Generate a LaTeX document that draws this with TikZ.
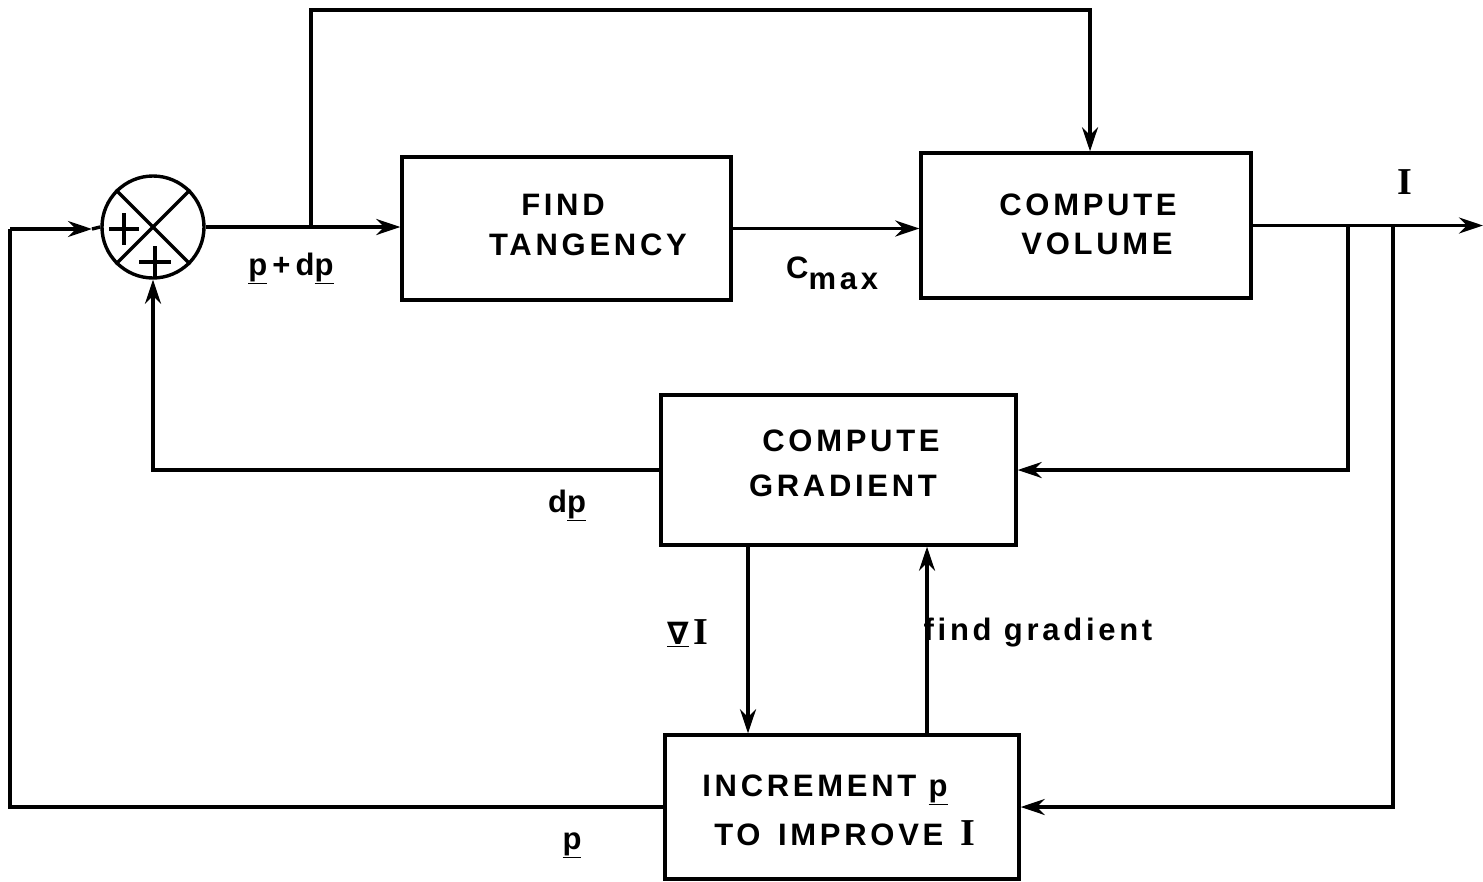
\documentclass[tikz,border=0pt]{standalone}
\usepackage{fontspec}
\setmainfont{Liberation Sans}[LetterSpace=12]
\newfontfamily\serI{Liberation Serif}
\newfontfamily\dvs{DejaVu Sans}
\usetikzlibrary{arrows.meta,calc}
\newcommand{\vI}{{\serI\bfseries\fontsize{38}{40}\selectfont I}}
\newcommand{\up}{\underline{p}}
\tikzset{
  blk/.style={draw, line width=3.4pt, rectangle, inner sep=0pt},
  lbl/.style={font=\fontsize{31}{36}\selectfont\bfseries, inner sep=0pt},
  wire/.style={line width=3.4pt},
  arr/.style={line width=3.4pt, -{Stealth[length=24pt,width=16pt]}},
}
\begin{document}
\begin{tikzpicture}[x=1pt,y=-1pt]
\useasboundingbox (0,0) rectangle (1483,881);
% summing junction
\node[circle, draw, line width=3.4pt, minimum size=102pt, inner sep=0pt] (sum) at (153,227) {};
\draw[wire] (sum.45) -- (sum.225);
\draw[wire] (sum.135) -- (sum.315);
\draw[wire] (109,229) -- (139,229) (124,213) -- (124,245);
\draw[wire] (139,262) -- (171,262) (155,246) -- (155,277);
% blocks
\node[blk, minimum width=329pt, minimum height=143pt] (tang) at (566.5,228.5) {};
\node[blk, minimum width=330pt, minimum height=145pt] (vol) at (1086,225.5) {};
\node[blk, minimum width=355pt, minimum height=150pt] (grad) at (838.5,470) {};
\node[blk, minimum width=354pt, minimum height=144pt] (inc) at (842,807) {};
% block texts
\node[lbl] (t1) at (563,205) {FIND};
\node[lbl] (t2) at (588,245) {TANGENCY};
\node[lbl] (v1) at (1088,205) {COMPUTE};
\node[lbl] (v2) at (1097,244) {VOLUME};
\node[lbl] (g1) at (851,441) {COMPUTE};
\node[lbl] (g2) at (843,486) {GRADIENT};
\node[lbl] (i1) at (825,790) {INCREMENT \up};
\node[lbl] (i2) at (845,833) {TO\, IMPROVE\, \vI};
% coordinates
\coordinate (b1) at (311,227);
\coordinate (c1) at (311,10);
\coordinate (c2) at (1090,10);
\coordinate (out) at (1483,225.5);
\coordinate (b2) at (1348,225.5);
\coordinate (b3) at (1393,225.5);
\coordinate (l0) at (10,229);
\coordinate (la) at (92,229);
\coordinate (dn) at (748,545);
\coordinate (upc) at (927,735);
% connectors
\draw[arr] (sum.east) -- (sum.east -| tang.west);
\draw[arr] (b1) -- (c1) -- (c2) -- (c2 |- vol.north);
\draw[arr] (tang.east) -- (tang.east -| vol.west);
\draw[arr] (vol.east) -- (out);
\draw[arr] (b2) |- (grad.east);
\draw[arr] (b3) |- (inc.east);
\draw[arr] (grad.west) -| (sum.south);
\draw[arr] (dn) -- (dn |- inc.north);
\draw[arr] (upc) -- (upc |- grad.south);
\draw[wire] (inc.west) -| (l0);
\draw[arr] (l0) -- (la);
\draw[wire] (la) -- (sum.west);
% signal labels
\node[lbl] (lpdp) at (291,268) {\up\,+\,d\up};
\node[lbl, anchor=base west] (lc) at (786,278) {C\raisebox{-11pt}{max}};
\node[lbl] (lI) at (1405,182) {\vI};
\node[lbl] (ldp) at (567,505) {d\up};
\node[lbl] (lgI) at (688,633) {\underline{\dvs\bfseries ∇}\,\vI};
\node[lbl] (lfg) at (1038,633) {find gradient};
\node[lbl] (lp) at (572,845) {\up};
\end{tikzpicture}
\end{document}
